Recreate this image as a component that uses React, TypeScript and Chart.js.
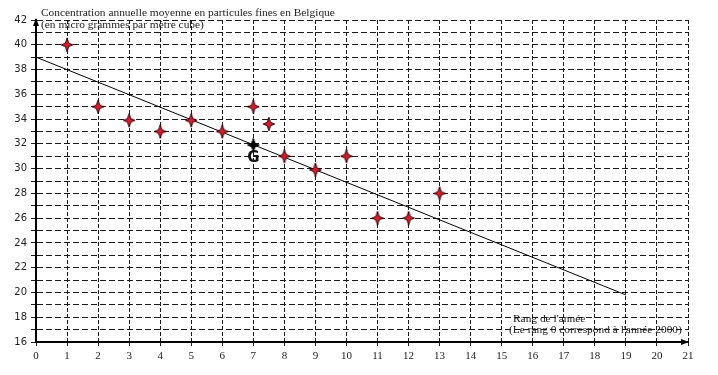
import React, { useEffect, useRef } from 'react';
import { Chart, registerables } from 'chart.js';

Chart.register(...registerables);

// ---- Data ----
const rangs = [1, 2, 3, 4, 5, 6, 7, 7.5, 8, 9, 10, 11, 12, 13];
const concentrations = [40, 35, 33.9, 33, 33.9, 33, 35, 33.6, 31, 29.9, 31, 26, 26, 28];
const pointGx = [7];
const pointGy = [31.9];
const trendX = [0, 19];
const trendY = [39, 19.8];
const xRange = [0, 21];
const yRange = [16, 42];
const titleLines = [
  'Concentration annuelle moyenne en particules fines en Belgique',
  '(en micro grammes par mètre cube)',
];
const axisLabelLines = ["Rang de l'année", "(Le rang 0 correspond à l'année 2000)"];
const gLabel = 'G';

function makeStar(fill: string, stroke: string): HTMLCanvasElement {
  const c = document.createElement('canvas');
  c.width = 14;
  c.height = 16;
  const ctx = c.getContext('2d')!;
  const cx = 7, cy = 8, rx = 5.8, ry = 6.8, inner = 1.7;
  ctx.beginPath();
  ctx.moveTo(cx, cy - ry);
  ctx.lineTo(cx + inner, cy - inner);
  ctx.lineTo(cx + rx, cy);
  ctx.lineTo(cx + inner, cy + inner);
  ctx.lineTo(cx, cy + ry);
  ctx.lineTo(cx - inner, cy + inner);
  ctx.lineTo(cx - rx, cy);
  ctx.lineTo(cx - inner, cy - inner);
  ctx.closePath();
  ctx.fillStyle = fill;
  ctx.fill();
  ctx.lineWidth = 1;
  ctx.strokeStyle = stroke;
  ctx.stroke();
  return c;
}

const overlayPlugin = {
  id: 'overlay',
  afterDraw(chart: any) {
    const ctx = chart.ctx as CanvasRenderingContext2D;
    const { left, top, right, bottom } = chart.chartArea;
    const xs = chart.scales.x;
    const ys = chart.scales.y;
    ctx.save();
    // arrows
    ctx.fillStyle = '#000';
    ctx.beginPath();
    ctx.moveTo(left, top - 2);
    ctx.lineTo(left - 3, top + 6);
    ctx.lineTo(left + 3, top + 6);
    ctx.closePath();
    ctx.fill();
    ctx.beginPath();
    ctx.moveTo(right + 1, bottom);
    ctx.lineTo(right - 7, bottom - 3);
    ctx.lineTo(right - 7, bottom + 3);
    ctx.closePath();
    ctx.fill();
    // title
    ctx.fillStyle = '#222';
    ctx.textAlign = 'left';
    ctx.textBaseline = 'middle';
    ctx.font = '11.4px "Liberation Serif"';
    ctx.fillText(titleLines[0], left + 5, top - 7);
    ctx.fillText(titleLines[1], left + 5, top + 5);
    // axis label
    ctx.fillText(axisLabelLines[0], left + 477, bottom - 23);
    ctx.fillText(axisLabelLines[1], left + 473, bottom - 12);
    // G label
    ctx.fillStyle = '#111';
    ctx.textAlign = 'center';
    ctx.font = 'bold 15px "DejaVu Sans"';
    ctx.fillText(gLabel, xs.getPixelForValue(pointGx[0]), ys.getPixelForValue(pointGy[0]) + 13);
    ctx.restore();
  },
};

export default function App() {
  const ref = useRef<HTMLCanvasElement>(null);
  useEffect(() => {
    if (!ref.current) return;
    const redStar = makeStar('#d1202c', '#3a0008');
    const blackStar = makeStar('#000', '#000');
    const chart = new Chart(ref.current, {
      type: 'scatter',
      data: {
        datasets: [
          {
            data: rangs.map((x, i) => ({ x, y: concentrations[i] })),
            pointStyle: redStar as any,
            pointRadius: 6,
          },
          {
            data: pointGx.map((x, i) => ({ x, y: pointGy[i] })),
            pointStyle: blackStar as any,
            pointRadius: 6,
          },
          {
            data: trendX.map((x, i) => ({ x, y: trendY[i] })),
            showLine: true,
            pointRadius: 0,
            borderColor: '#000',
            borderWidth: 1,
          },
        ],
      },
      plugins: [overlayPlugin],
      options: {
        animation: false,
        responsive: false,
        layout: { padding: { left: 0, right: 30, top: 20, bottom: 0 } },
        plugins: { legend: { display: false }, tooltip: { enabled: false } },
        scales: {
          x: {
            type: 'linear',
            min: xRange[0],
            max: xRange[1],
            afterFit: (s: any) => { s.height = 33; },
            ticks: {
              stepSize: 1,
              autoSkip: false,
              maxRotation: 0,
              color: '#222',
              padding: 4,
              font: { family: '"Liberation Serif"', size: 11 },
            },
            grid: { color: '#1a1a1a', lineWidth: 1, tickLength: 4, tickColor: '#222' },
            border: { display: true, color: '#000', width: 2, dash: [4, 2] },
          },
          y: {
            type: 'linear',
            min: yRange[0],
            max: yRange[1],
            afterFit: (s: any) => { s.width = 36; },
            ticks: {
              stepSize: 1,
              autoSkip: false,
              color: '#222',
              padding: 4,
              font: { family: '"DejaVu Sans"', size: 10 },
              callback: (v: any) => (Number(v) % 2 === 0 ? String(v) : ''),
            },
            grid: { color: '#1a1a1a', lineWidth: 1, tickLength: 5, tickColor: '#222' },
            border: { display: true, color: '#000', width: 2, dash: [6, 3] },
          },
        },
      },
    });
    return () => chart.destroy();
  }, []);
  return (
    <div style={{ position: 'absolute', left: 0, top: 0, width: 718, height: 375, background: '#fff' }}>
      <canvas ref={ref} width={718} height={375} style={{ display: 'block' }} />
    </div>
  );
}
